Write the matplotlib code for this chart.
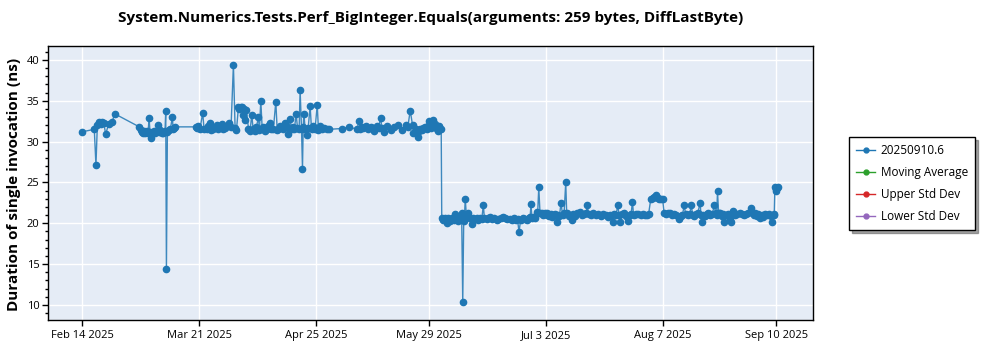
import matplotlib
matplotlib.use("Agg")
import matplotlib.pyplot as plt
from matplotlib.lines import Line2D
from matplotlib.ticker import MultipleLocator, FixedLocator
import pandas as pd

title = "System.Numerics.Tests.Perf_BigInteger.Equals(arguments: 259 bytes, DiffLastByte)"
y_label = "Duration of single invocation (ns)"
series_name = "20250910.6"
legend_labels = [series_name, "Moving Average", "Upper Std Dev", "Lower Std Dev"]
legend_colors = ["#1f77b4", "#2ca02c", "#d62728", "#9467bd"]
x_tick_labels = ["Feb 14 2025", "Mar 21 2025", "Apr 25 2025", "May 29 2025",
                 "Jul 3 2025", "Aug 7 2025", "Sep 10 2025"]
y_ticks = [10, 15, 20, 25, 30, 35, 40]

# run timestamps ("YYYY-MM-DD HH") and measured durations in ns
run_times = [
    # February
    "2025-02-14 12", "2025-02-18 02", "2025-02-18 14", "2025-02-19 00", "2025-02-19 14",
    "2025-02-19 23", "2025-02-20 07", "2025-02-20 22", "2025-02-21 12", "2025-02-22 10",
    "2025-02-23 10", "2025-02-24 05",
    # early March
    "2025-03-03 14", "2025-03-04 00", "2025-03-04 07", "2025-03-04 14", "2025-03-04 22",
    "2025-03-05 07", "2025-03-05 19", "2025-03-06 05", "2025-03-06 12", "2025-03-06 19",
    "2025-03-07 02", "2025-03-07 12", "2025-03-08 00", "2025-03-08 10", "2025-03-09 02",
    "2025-03-09 12", "2025-03-09 22", "2025-03-10 10", "2025-03-10 19", "2025-03-11 07",
    "2025-03-11 12", "2025-03-11 17", "2025-03-12 00", "2025-03-12 12", "2025-03-12 22",
    "2025-03-13 12", "2025-03-13 17", "2025-03-14 02", "2025-03-14 10",
    # late March - April
    "2025-03-20 17", "2025-03-21 00", "2025-03-21 07", "2025-03-21 19", "2025-03-22 14",
    "2025-03-23 00", "2025-03-23 19", "2025-03-24 05", "2025-03-24 19", "2025-03-25 05",
    "2025-03-25 19", "2025-03-26 07", "2025-03-26 19", "2025-03-27 07", "2025-03-27 19",
    "2025-03-28 07", "2025-03-28 19", "2025-03-29 07", "2025-03-29 22", "2025-03-30 14",
    "2025-03-31 02", "2025-03-31 19", "2025-04-01 07", "2025-04-01 17", "2025-04-02 07",
    "2025-04-02 14", "2025-04-02 22", "2025-04-03 05", "2025-04-03 12", "2025-04-03 19",
    "2025-04-04 02", "2025-04-04 07", "2025-04-04 17", "2025-04-05 07", "2025-04-05 19",
    "2025-04-06 07", "2025-04-06 17", "2025-04-07 07", "2025-04-07 17", "2025-04-08 07",
    "2025-04-08 14", "2025-04-09 00", "2025-04-09 10", "2025-04-09 19", "2025-04-10 07",
    "2025-04-10 19", "2025-04-11 07", "2025-04-11 19", "2025-04-12 05", "2025-04-12 19",
    "2025-04-13 12", "2025-04-13 22", "2025-04-14 07", "2025-04-14 19", "2025-04-15 10",
    "2025-04-15 19", "2025-04-16 07", "2025-04-16 17", "2025-04-17 07", "2025-04-17 19",
    "2025-04-18 05", "2025-04-18 17", "2025-04-19 02", "2025-04-19 14", "2025-04-20 00",
    "2025-04-20 12", "2025-04-20 19", "2025-04-21 05", "2025-04-21 12", "2025-04-21 17",
    "2025-04-21 22", "2025-04-22 07", "2025-04-22 19", "2025-04-23 05", "2025-04-23 19",
    "2025-04-24 05", "2025-04-24 17", "2025-04-25 07", "2025-04-25 22", "2025-04-26 07",
    "2025-04-26 19", "2025-04-27 10", "2025-04-28 00", "2025-04-28 19", "2025-04-29 12",
    # May
    "2025-05-03 07", "2025-05-05 12", "2025-05-07 19", "2025-05-08 12", "2025-05-08 17",
    "2025-05-09 05", "2025-05-09 17", "2025-05-10 12", "2025-05-11 02", "2025-05-11 22",
    "2025-05-12 12", "2025-05-12 22", "2025-05-13 17", "2025-05-14 07", "2025-05-14 22",
    "2025-05-15 07", "2025-05-15 22", "2025-05-16 22", "2025-05-18 00", "2025-05-18 22",
    "2025-05-20 00", "2025-05-21 07", "2025-05-22 12", "2025-05-23 02", "2025-05-23 19",
    "2025-05-24 12", "2025-05-24 17", "2025-05-25 10", "2025-05-26 00", "2025-05-26 10",
    "2025-05-26 17", "2025-05-27 05", "2025-05-27 14", "2025-05-28 05", "2025-05-28 17",
    "2025-05-29 02", "2025-05-29 12", "2025-05-29 22", "2025-05-30 05", "2025-05-30 17",
    "2025-05-31 02", "2025-05-31 12", "2025-05-31 19", "2025-06-01 05", "2025-06-01 12",
    "2025-06-01 19", "2025-06-02 02",
    # June
    "2025-06-02 06", "2025-06-02 15", "2025-06-03 02", "2025-06-03 18", "2025-06-04 03",
    "2025-06-04 14", "2025-06-05 00", "2025-06-05 11", "2025-06-05 22", "2025-06-06 05",
    "2025-06-06 16", "2025-06-07 03", "2025-06-07 14", "2025-06-08 00", "2025-06-08 05",
    "2025-06-08 13", "2025-06-08 20", "2025-06-09 02", "2025-06-09 07", "2025-06-09 16",
    "2025-06-10 05", "2025-06-10 17", "2025-06-11 06", "2025-06-11 15", "2025-06-12 05",
    "2025-06-12 18", "2025-06-13 06", "2025-06-13 17", "2025-06-14 06", "2025-06-14 17",
    "2025-06-15 01", "2025-06-15 16", "2025-06-16 06", "2025-06-16 17", "2025-06-17 07",
    "2025-06-17 22", "2025-06-18 17", "2025-06-19 06", "2025-06-19 21", "2025-06-20 17",
    "2025-06-21 05", "2025-06-21 19", "2025-06-22 17", "2025-06-23 07", "2025-06-23 22",
    "2025-06-24 12", "2025-06-24 23", "2025-06-25 10", "2025-06-25 21", "2025-06-26 11",
    "2025-06-27 05", "2025-06-27 19", "2025-06-28 10", "2025-06-28 18", "2025-06-29 00",
    "2025-06-29 07", "2025-06-29 18", "2025-06-30 05", "2025-06-30 17",
    # July
    "2025-07-01 00", "2025-07-01 08", "2025-07-01 17", "2025-07-02 04", "2025-07-02 15",
    "2025-07-03 05", "2025-07-03 17", "2025-07-03 22", "2025-07-04 10", "2025-07-04 21",
    "2025-07-05 05", "2025-07-05 18", "2025-07-06 05", "2025-07-06 17", "2025-07-07 03",
    "2025-07-07 13", "2025-07-08 00", "2025-07-08 11", "2025-07-08 22", "2025-07-09 10",
    "2025-07-09 17", "2025-07-10 06", "2025-07-10 17", "2025-07-11 05", "2025-07-11 15",
    "2025-07-12 05", "2025-07-12 19", "2025-07-13 17", "2025-07-14 07", "2025-07-14 22",
    "2025-07-15 12", "2025-07-15 22", "2025-07-16 06", "2025-07-16 21", "2025-07-17 17",
    "2025-07-18 09", "2025-07-19 03", "2025-07-19 21", "2025-07-20 17", "2025-07-21 09",
    "2025-07-21 23", "2025-07-22 13", "2025-07-23 00", "2025-07-23 12", "2025-07-23 22",
    "2025-07-24 12", "2025-07-25 00", "2025-07-25 10", "2025-07-25 19", "2025-07-26 07",
    "2025-07-26 22", "2025-07-27 12", "2025-07-28 03", "2025-07-28 13", "2025-07-29 00",
    "2025-07-29 10", "2025-07-29 18", "2025-07-30 09", "2025-07-31 05", "2025-07-31 21",
    # August
    "2025-08-01 15", "2025-08-02 05", "2025-08-02 17", "2025-08-03 06", "2025-08-03 22",
    "2025-08-04 11", "2025-08-04 22", "2025-08-05 10", "2025-08-05 23", "2025-08-06 10",
    "2025-08-07 00", "2025-08-07 11", "2025-08-07 22", "2025-08-08 09", "2025-08-08 23",
    "2025-08-09 17", "2025-08-10 07", "2025-08-10 22", "2025-08-11 12", "2025-08-12 08",
    "2025-08-12 21", "2025-08-13 10", "2025-08-13 22", "2025-08-14 09", "2025-08-14 23",
    "2025-08-15 13", "2025-08-16 02", "2025-08-16 11", "2025-08-16 22", "2025-08-17 10",
    "2025-08-17 23", "2025-08-18 17", "2025-08-18 23", "2025-08-19 05", "2025-08-19 15",
    "2025-08-20 05", "2025-08-20 16", "2025-08-21 05", "2025-08-21 17", "2025-08-22 07",
    "2025-08-23 00", "2025-08-23 09", "2025-08-23 16", "2025-08-23 22", "2025-08-24 06",
    "2025-08-24 17", "2025-08-25 04", "2025-08-25 11", "2025-08-25 22", "2025-08-26 09",
    "2025-08-26 23", "2025-08-27 17", "2025-08-28 00", "2025-08-28 07", "2025-08-28 17",
    "2025-08-29 05", "2025-08-29 19", "2025-08-30 17", "2025-08-31 07", "2025-08-31 22",
    # September
    "2025-09-01 12", "2025-09-02 03", "2025-09-03 00", "2025-09-03 11", "2025-09-03 22",
    "2025-09-04 05", "2025-09-04 16", "2025-09-05 02", "2025-09-05 17", "2025-09-06 04",
    "2025-09-06 14", "2025-09-07 05", "2025-09-07 19", "2025-09-08 10", "2025-09-08 20",
    "2025-09-09 05", "2025-09-09 17", "2025-09-09 22", "2025-09-10 03", "2025-09-10 09",
    "2025-09-10 14", "2025-09-10 19", "2025-09-10 23",
]

durations = [
    # February
    31.2, 31.5, 27.1, 32.0, 32.4, 32.1, 32.4, 32.3, 30.9, 32.2,
    32.4, 33.4,
    # early March
    31.8, 31.4, 31.2, 31.0, 31.3, 31.1, 31.3, 31.0, 32.9, 31.2,
    30.4, 31.1, 31.3, 31.0, 32.0, 31.2, 31.4, 31.1, 31.0, 31.3,
    33.7, 14.4, 31.2, 31.4, 31.6, 33.0, 31.5, 31.7, 31.8,
    # late March - April
    31.8, 31.7, 31.9, 31.6, 33.5, 31.5, 31.6, 31.9, 32.3, 31.4,
    31.6, 31.8, 32.0, 31.5, 31.8, 32.2, 31.6, 31.7, 31.9, 32.3,
    31.8, 39.4, 31.7, 31.4, 34.2, 34.0, 34.2, 34.1, 34.2, 33.3,
    34.0, 32.7, 33.9, 31.6, 31.3, 33.3, 31.5, 31.3, 31.8, 33.0,
    31.4, 35.0, 31.6, 31.8, 31.3, 31.6, 31.9, 32.3, 31.5, 31.6,
    34.9, 31.4, 31.6, 31.9, 31.7, 31.5, 32.3, 31.8, 30.9, 32.8,
    31.6, 31.8, 31.5, 33.4, 31.7, 31.6, 36.3, 31.5, 26.7, 31.8,
    33.4, 31.6, 30.8, 31.7, 34.3, 31.5, 31.9, 31.6, 34.5, 31.4,
    31.9, 31.6, 31.7, 31.6, 31.5,
    # May
    31.6, 31.8, 31.5, 32.5, 31.6, 31.8, 31.7, 31.9, 31.6, 31.8,
    31.7, 31.3, 31.9, 31.7, 32.9, 31.7, 31.2, 31.9, 31.4, 31.8,
    32.0, 31.4, 32.0, 31.8, 33.8, 32.0, 31.1, 31.6, 30.6, 31.3,
    31.6, 31.4, 31.7, 31.8, 31.6, 31.9, 32.5, 31.7, 32.0, 32.7,
    32.1, 31.8, 31.5, 31.3, 31.9, 31.6, 31.5,
    # June
    20.6, 20.4, 20.7, 20.0, 20.6, 20.3, 20.5, 20.7, 20.4, 21.1,
    20.6, 20.3, 20.8, 20.5, 21.2, 10.4, 20.3, 21.0, 23.0, 20.7,
    21.2, 20.6, 19.9, 20.7, 20.5, 20.6, 20.4, 20.6, 20.5, 22.2,
    20.6, 20.5, 20.7, 20.8, 20.5, 20.6, 20.4, 20.5, 20.6, 20.8,
    20.6, 20.5, 20.5, 20.4, 20.6, 20.4, 20.5, 18.9, 20.4, 20.6,
    20.5, 20.4, 20.6, 20.8, 22.3, 20.6, 20.8, 20.6, 21.4,
    # July
    21.2, 24.4, 21.2, 21.3, 21.0, 21.2, 21.0, 21.3, 20.9, 21.1,
    20.8, 21.0, 21.1, 20.2, 21.0, 20.9, 22.5, 21.0, 21.2, 25.0,
    21.2, 20.9, 21.0, 20.4, 21.1, 20.9, 21.2, 21.4, 21.0, 21.1,
    21.2, 22.2, 21.1, 21.0, 21.2, 21.0, 21.1, 20.9, 21.1, 21.0,
    20.8, 21.0, 20.9, 20.1, 21.1, 21.0, 22.2, 21.0, 20.1, 21.1,
    21.2, 20.9, 20.3, 21.0, 21.1, 22.6, 21.0, 21.1, 21.1, 21.0,
    # August
    21.1, 21.0, 21.0, 21.1, 23.0, 23.1, 23.2, 23.4, 23.1, 23.0,
    23.0, 23.0, 21.2, 21.1, 21.2, 21.2, 21.0, 21.1, 21.0, 20.5,
    20.9, 21.0, 22.2, 21.1, 21.0, 21.1, 22.2, 21.0, 20.9, 21.1,
    21.2, 22.5, 21.0, 20.2, 21.0, 20.9, 21.1, 21.2, 21.0, 21.1,
    22.2, 21.2, 21.0, 23.9, 21.2, 21.2, 20.9, 21.1, 20.2, 21.0,
    21.1, 20.4, 20.2, 21.0, 21.5, 21.0, 21.1, 21.2, 21.1, 21.0,
    # September
    21.1, 21.2, 21.9, 21.3, 21.0, 21.2, 20.9, 21.1, 20.7, 21.0,
    20.8, 21.1, 21.0, 21.1, 20.9, 20.1, 21.1, 21.0, 24.5, 24.2,
    23.9, 24.3, 24.5,
]

FONT = ["Open Sans", "DejaVu Sans"]
plt.rcParams["font.family"] = FONT

times = pd.to_datetime(run_times, format="%Y-%m-%d %H")
tick_pos = pd.to_datetime(x_tick_labels, format="%b %d %Y") + pd.Timedelta(hours=12)

fig = plt.figure(figsize=(10, 3.5), dpi=100)
ax = fig.add_axes([0.048, 0.0857, 0.765, 0.7829])
ax.set_facecolor("#E5ECF6")

ax.plot(times, durations, color=legend_colors[0], linewidth=1.0, alpha=0.85, zorder=3)
ax.plot(times, durations, linestyle="none", marker="o", markersize=4.5,
        color=legend_colors[0], zorder=4)

ax.set_xlim(pd.Timestamp("2025-02-04 05:00"), pd.Timestamp("2025-09-21 13:00"))
ax.set_ylim(8.16, 41.7)

ax.xaxis.set_major_locator(FixedLocator(matplotlib.dates.date2num(tick_pos)))
ax.set_xticklabels(x_tick_labels)
ax.set_yticks(y_ticks)
ax.yaxis.set_minor_locator(MultipleLocator(1))

ax.grid(True, which="major", color="white", linewidth=1.0)
ax.set_axisbelow(True)
for s in ax.spines.values():
    s.set_color("black")
    s.set_linewidth(1.0)
ax.tick_params(axis="both", which="major", length=4, width=1, labelsize=8,
               colors="black", pad=2)
ax.tick_params(axis="x", which="major", pad=3)
ax.tick_params(axis="y", which="minor", length=2.5, width=1)

fig.text(0.4305, 1 - 18 / 350, title, ha="center", va="center",
         fontsize=11, fontweight="bold")
fig.text(0.014, 1 - 184 / 350, y_label, ha="center", va="center",
         rotation=90, fontsize=11, fontweight="bold")

handles = [Line2D([0], [0], color=c, marker="o", markersize=3.5, linewidth=1.0)
           for c in legend_colors]
leg = fig.legend(handles, legend_labels, loc="upper left",
                 bbox_to_anchor=(0.849, 1 - 137 / 350), borderaxespad=0,
                 frameon=True, fancybox=False, shadow=True, fontsize=8.5,
                 handlelength=1.6, handletextpad=0.5, labelspacing=0.75,
                 borderpad=0.6)
leg.get_frame().set_edgecolor("black")
leg.get_frame().set_linewidth(1.0)

fig.savefig("out.png", dpi=100)
